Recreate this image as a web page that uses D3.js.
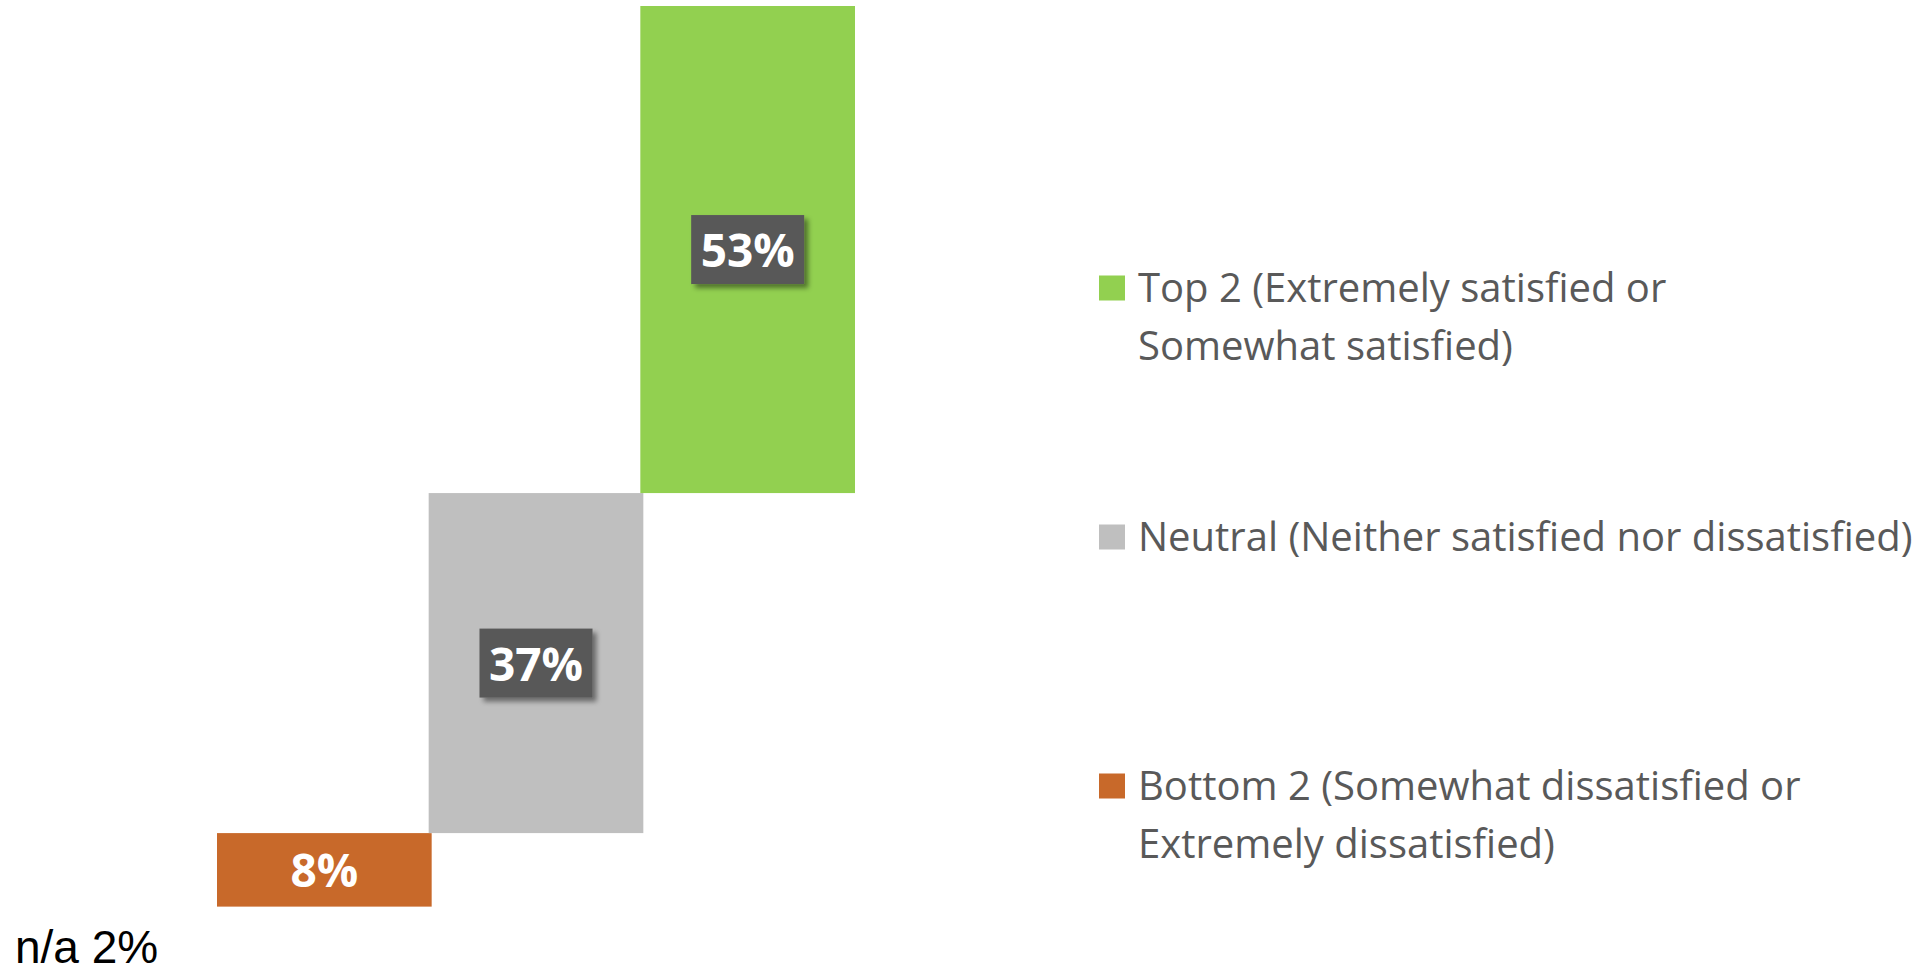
<!DOCTYPE html>
<html><head><meta charset="utf-8">
<script src="https://cdn.jsdelivr.net/npm/d3@7"></script>
<style>
html,body{margin:0;padding:0;background:#fff;overflow:hidden;}
</style></head>
<body>
<svg id="chart" width="1921" height="972"></svg>
<script>
const categories = ["Bottom 2", "Neutral", "Top 2"];
const values = [8, 37, 53];
const naValue = 2;
const naLabel = "n/a 2%";
const colors = ["#C8692A", "#BFBFBF", "#92D050"];
const legendOrder = ["Top 2", "Neutral", "Bottom 2"];
const legendLines = [
  ["Top 2 (Extremely satisfied or", "Somewhat satisfied)"],
  ["Neutral (Neither satisfied nor dissatisfied)"],
  ["Bottom 2 (Somewhat dissatisfied or", "Extremely dissatisfied)"]
];
const boxedLabels = [false, true, true];

const svg = d3.select("#chart");
const defs = svg.append("defs");
const f = defs.append("filter").attr("id","shadow").attr("x","-20%").attr("y","-20%").attr("width","150%").attr("height","160%");
f.append("feDropShadow").attr("dx",4).attr("dy",4).attr("stdDeviation",2.5).attr("flood-color","#000").attr("flood-opacity",0.45);

const x = d3.scaleBand().domain(categories).range([217, 852]).padding(0);
const y = d3.scaleLinear().domain([0, 100]).range([925, 6]);

let cum = naValue;
const bars = categories.map((c, i) => {
  const d = {cat: c, v: values[i], start: cum, end: cum + values[i], color: colors[i], boxed: boxedLabels[i]};
  cum += values[i];
  return d;
});

const bw = x.bandwidth() + 3;
svg.selectAll("rect.bar").data(bars).join("rect").attr("class","bar")
  .attr("x", d => x(d.cat)).attr("width", bw)
  .attr("y", d => y(d.end)).attr("height", d => y(d.start) - y(d.end))
  .attr("fill", d => d.color);

const lab = svg.selectAll("g.lab").data(bars).join("g").attr("class","lab")
  .attr("transform", d => `translate(${x(d.cat) + bw/2},${(y(d.start) + y(d.end))/2})`);
lab.filter(d => d.boxed).append("rect")
  .attr("x", -56.5).attr("y", -34.5).attr("width", 113).attr("height", 69)
  .attr("fill", "#595959").attr("filter", "url(#shadow)");
lab.append("text").text(d => d.v + "%")
  .attr("text-anchor","middle").attr("dy","0.38em")
  .attr("font-family","'Open Sans', sans-serif").attr("font-weight","bold")
  .attr("font-size", 46).attr("fill","#fff");

svg.append("text").attr("x", 15).attr("y", 963).text(naLabel)
  .attr("font-family","'Liberation Sans', Arial, sans-serif").attr("font-size", 46).attr("fill","#000");

const legendY = d3.scalePoint().domain(legendOrder).range([288, 786]);
const lg = svg.selectAll("g.leg").data(legendOrder).join("g").attr("class","leg")
  .attr("transform", d => `translate(1099,${legendY(d)})`);
lg.append("rect").attr("x",0).attr("y",-12.5).attr("width",26).attr("height",25)
  .attr("fill", d => colors[categories.indexOf(d)]);
lg.each(function(d, i) {
  const t = d3.select(this).append("text")
    .attr("font-family","'Open Sans', sans-serif").attr("font-size", 40).attr("fill","#595959");
  legendLines[i].forEach((line, j) => {
    t.append("tspan").attr("x", 39).attr("y", 13.5 + j * 58.5).text(line);
  });
});
</script>
</body></html>
